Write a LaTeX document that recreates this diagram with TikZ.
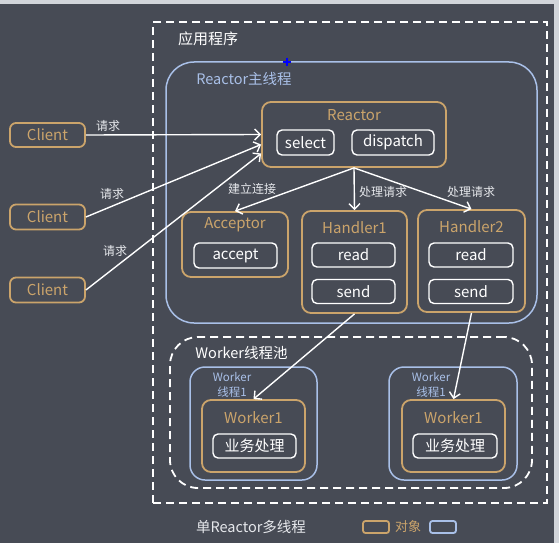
\documentclass[tikz,border=0pt]{standalone}
\usepackage{fontspec}
\setmainfont{Noto Sans CJK SC}
\usetikzlibrary{arrows.meta}
\definecolor{bg}{HTML}{474B55}
\definecolor{org}{HTML}{CBA46B}
\definecolor{blu}{HTML}{A9C0E8}
\definecolor{strip}{HTML}{D2D5DA}
\definecolor{lbl}{HTML}{E6E8EC}
\tikzset{
  obox/.style={draw=org, line width=1.8pt, rounded corners=9pt, inner sep=0pt},
  wbox/.style={draw=white, line width=1.4pt, rounded corners=5pt, inner sep=0pt, text=white, font=\fontsize{15}{16}\selectfont},
  bbox/.style={draw=blu, line width=1.5pt, inner sep=0pt},
  otitle/.style={text=org, font=\fontsize{15}{16}\selectfont, inner sep=0pt},
  lab/.style={text=lbl, font=\fontsize{12}{13}\selectfont, inner sep=0pt},
  arr/.style={draw=white, line width=1.4pt, -{Straight Barb[length=5.5pt,width=11pt,line width=1.4pt]}},
  dash box/.style={draw=white, line width=1.8pt, dash pattern=on 8pt off 5pt, inner sep=0pt}
}
\begin{document}
\begin{tikzpicture}[x=1pt,y=-1pt]
\useasboundingbox (0,0) rectangle (559,543);
\fill[bg] (0,0) rectangle (559,543);
\fill[strip] (0,0) rectangle (559,4);
\fill[strip] (554,0) rectangle (559,543);

% outer dashed
\node[dash box, minimum width=394pt, minimum height=481pt] (app) at (350,262.5) {};
\node[text=white, font=\fontsize{15}{16}\selectfont, inner sep=0pt] (applbl) at (208,39) {应用程序};

% Reactor main thread
\node[bbox, rounded corners=28pt, minimum width=371pt, minimum height=261pt] (main) at (351.5,192.5) {};
\node[text=blu, font=\fontsize{14.5}{15}\selectfont, inner sep=0pt] (mainlbl) at (244,79) {Reactor主线程};

% Reactor
\node[obox, minimum width=184pt, minimum height=65pt] (reactor) at (354,134.5) {};
\node[otitle] (reactorlbl) at (354,115) {Reactor};
\node[wbox, minimum width=57pt, minimum height=25pt] (select) at (305.5,142.5) {select};
\node[wbox, minimum width=82pt, minimum height=25pt] (dispatch) at (393,142.5) {dispatch};

% Clients
\node[obox, rounded corners=6pt, minimum width=75pt, minimum height=24pt, text=org, font=\fontsize{15}{16}\selectfont] (c1) at (47.5,135) {Client};
\node[obox, rounded corners=6pt, minimum width=75pt, minimum height=25pt, text=org, font=\fontsize{15}{16}\selectfont] (c2) at (47.5,217) {Client};
\node[obox, rounded corners=6pt, minimum width=75pt, minimum height=25pt, text=org, font=\fontsize{15}{16}\selectfont] (c3) at (47.5,290) {Client};

% Acceptor
\node[obox, minimum width=106pt, minimum height=65pt] (acceptor) at (235,244.5) {};
\node[otitle] (acceptorlbl) at (235,225) {Acceptor};
\node[wbox, minimum width=83pt, minimum height=25pt] (accept) at (235.5,255.5) {accept};

% Handler1
\node[obox, minimum width=105pt, minimum height=102pt] (h1) at (354.5,262) {};
\node[otitle] (h1lbl) at (354.5,228) {Handler1};
\node[wbox, minimum width=83pt, minimum height=24pt] (h1read) at (353.5,255) {read};
\node[wbox, minimum width=83pt, minimum height=24pt] (h1send) at (353.5,291.5) {send};

% Handler2
\node[obox, minimum width=107pt, minimum height=102pt] (h2) at (471.5,261) {};
\node[otitle] (h2lbl) at (471.5,227) {Handler2};
\node[wbox, minimum width=84pt, minimum height=24pt] (h2read) at (471,255) {read};
\node[wbox, minimum width=84pt, minimum height=24pt] (h2send) at (471,291.5) {send};

% Worker pool
\node[dash box, rounded corners=28pt, minimum width=362pt, minimum height=151pt] (pool) at (351,412.5) {};
\node[text=white, font=\fontsize{14.5}{15}\selectfont, inner sep=0pt] (poollbl) at (241.5,353) {Worker线程池};

% Worker thread 1
\node[bbox, rounded corners=15pt, minimum width=127pt, minimum height=113pt] (wt1) at (253.5,423.5) {};
\node[text=blu, font=\fontsize{11.5}{14.5}\selectfont, inner sep=0pt, align=center] (wt1lbl) at (232,385) {Worker\\线程1};
\node[obox, minimum width=103pt, minimum height=72pt] (w1) at (253.5,436) {};
\node[otitle] (w1lbl) at (253.5,418) {Worker1};
\node[wbox, minimum width=83pt, minimum height=24pt] (w1biz) at (254.5,446) {业务处理};

% Worker thread 2
\node[bbox, rounded corners=15pt, minimum width=128pt, minimum height=113pt] (wt2) at (453,423.5) {};
\node[text=blu, font=\fontsize{11.5}{14.5}\selectfont, inner sep=0pt, align=center] (wt2lbl) at (431,385) {Worker\\线程1};
\node[obox, minimum width=103pt, minimum height=72pt] (w2) at (453.5,436) {};
\node[otitle] (w2lbl) at (453.5,418) {Worker1};
\node[wbox, minimum width=84pt, minimum height=24pt] (w2biz) at (455,446) {业务处理};

% Connectors
\draw[arr] (c1.east) -- (reactor.west);
\draw[arr] (c2.east) -- ([yshift=-10pt]reactor.west);
\draw[arr] (c3.east) -- ([yshift=-19pt]reactor.west);
\node[lab] (l1) at (108,126) {请求};
\node[lab] (l2) at (112,194) {请求};
\node[lab] (l3) at (115,251) {请求};

\coordinate (disp) at (reactor.south);
\draw[arr] (disp) -- (acceptor.north);
\draw[arr] (disp) -- (h1.north);
\draw[arr] (disp) -- (h2.north);
\node[lab] (l4) at (252,189) {建立连接};
\node[lab] (l5) at (383,192) {处理请求};
\node[lab] (l6) at (471,192) {处理请求};

\draw[arr] (h1.south) -- (w1.north);
\draw[arr] (h2.south) -- (w2.north);

% small cursor mark
\draw[blue, line width=1.2pt] (283,62) -- (291,62) (287,58) -- (287,66);

% Bottom caption and legend
\node[text=lbl, font=\fontsize{14.5}{15}\selectfont, inner sep=0pt] (cap) at (251,527) {单Reactor多线程};
\node[draw=org, line width=1.8pt, rounded corners=2.5pt, minimum width=26pt, minimum height=12pt, inner sep=0pt] (lego) at (376,527) {};
\node[text=org, font=\fontsize{13}{14}\selectfont, inner sep=0pt, anchor=west] (legot) at ([xshift=5pt]lego.east) {对象};
\node[draw=blu, line width=1.8pt, rounded corners=2.5pt, minimum width=26pt, minimum height=12pt, inner sep=0pt] (legb) at (443,527) {};
\end{tikzpicture}
\end{document}
